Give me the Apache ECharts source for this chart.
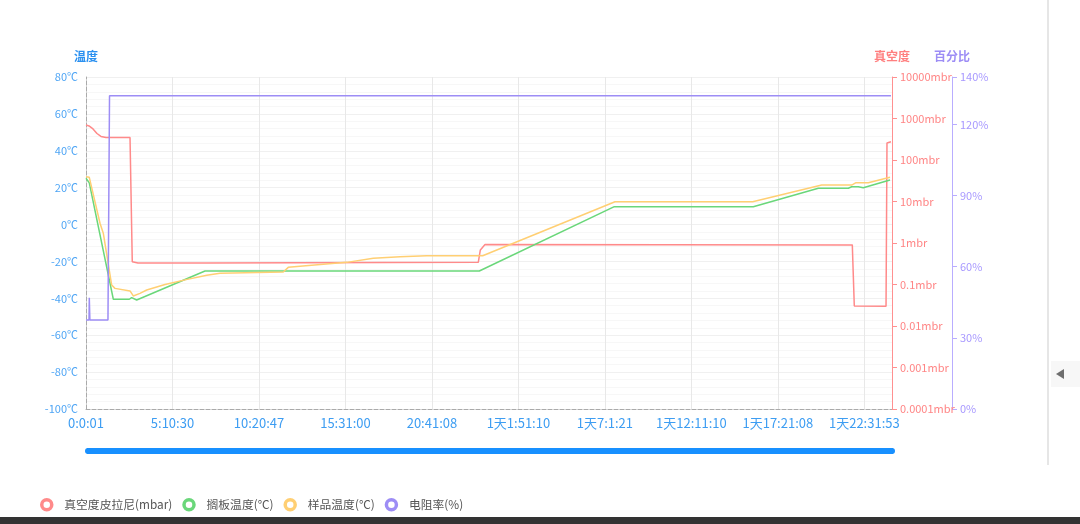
<!DOCTYPE html>
<html>
<head>
<meta charset="utf-8">
<script src="https://cdn.jsdelivr.net/npm/echarts@6/dist/echarts.min.js"></script>
<style>
  html,body{margin:0;padding:0;background:#fff;}
  #chart{position:absolute;left:0;top:0;width:1080px;height:524px;}
  #vline{position:absolute;left:1047px;top:0;width:2px;height:465px;background:#e6e6e6;}
  #arrowbox{position:absolute;left:1051px;top:361px;width:29px;height:26px;background:#f7f7f7;}
  #arrow{position:absolute;left:1056px;top:369px;width:0;height:0;border-top:5px solid transparent;border-bottom:5px solid transparent;border-right:8px solid #6e6e6e;}
  #bottombar{position:absolute;left:0;top:517px;width:1080px;height:7px;background:#333;}
</style>
</head>
<body>
<div id="chart"></div>
<div id="vline"></div>
<div id="arrowbox"></div>
<div id="arrow"></div>
<div id="bottombar"></div>
<script>
// X positions are measured in "tick-label intervals" from the first sample (0 = 0:0:01)
const xTickLabels = ['0:0:01','5:10:30','10:20:47','15:31:00','20:41:08','1天1:51:10','1天7:1:21','1天12:11:10','1天17:21:08','1天22:31:53'];
const xMax = 9.32;

const seriesNames = ['真空度皮拉尼(mbar)','搁板温度(℃)','样品温度(℃)','电阻率(%)'];

// 真空度 (mbar) [x, value]
const vacuum = [
  [0,697],[0.035,661],[0.081,560],[0.127,435],[0.173,370],[0.231,348],[0.509,348],
  [0.535,0.354],[0.601,0.33],[1.388,0.33],[1.399,0.343],[4.536,0.343],[4.56,0.68],
  [4.614,0.92],[8.861,0.9],[8.884,0.0303],[9.251,0.0298],[9.262,257],[9.285,276],[9.308,276]
];
// 搁板温度 (℃)
const shelfTemp = [
  [0,25.1],[0.038,22.6],[0.316,-40.5],[0.501,-40.5],[0.528,-39.6],[0.543,-39.8],[0.586,-40.9],
  [1.376,-25.2],[4.548,-25.2],[6.109,9.7],[7.716,9.7],[8.468,19.7],[8.815,19.7],[8.854,20.5],
  [8.93,20.5],[8.988,20.0],[9.297,24.2]
];
// 样品温度 (℃)
const sampleTemp = [
  [0,25.9],[0.038,25.6],[0.162,0.7],[0.2,-4.7],[0.297,-32.8],[0.335,-34.6],[0.509,-36.0],
  [0.526,-36.6],[0.547,-38.7],[0.624,-37.3],[0.702,-35.5],[0.914,-32.5],[1.145,-30.0],
  [1.396,-27.5],[1.549,-26.4],[2.281,-25.7],[2.339,-23.2],[3.015,-20.5],[3.322,-18.3],
  [3.631,-17.4],[3.94,-16.9],[4.587,-16.9],[6.117,12.4],[7.709,12.4],[8.507,21.4],
  [8.854,21.4],[8.904,22.7],[9.046,22.7],[9.297,25.6]
];
// 电阻率 (%)
const resistivity = [
  [0,37.5],[0.035,37.5],[0.038,46.9],[0.045,37.5],[0.254,37.5],[0.272,132.1],[9.308,132.1]
];

const colors = ['#ff8a8a','#6ad77a','#ffcf73','#9d8df5'];
const FONT = 'Noto Sans CJK SC';

const chart = echarts.init(document.getElementById('chart'));
chart.setOption({
  animation:false,
  textStyle:{fontFamily:FONT},
  color:colors,
  grid:{left:86,right:188,top:77,bottom:115,containLabel:false},
  legend:{
    left:35, top:493, itemGap:10, itemWidth:25, itemHeight:10,
    icon:'circle',
    textStyle:{fontSize:11.8,color:'#555',fontFamily:FONT},
    data:seriesNames.map((n,i)=>({name:n,itemStyle:{color:'#fff',borderColor:colors[i],borderWidth:3.5}}))
  },
  xAxis:{
    type:'value', min:0, max:xMax, interval:1,
    axisLine:{show:true,onZero:false,lineStyle:{color:'#aaa',type:'dashed'}},
    axisTick:{show:false},
    axisLabel:{fontSize:13,color:'#3d9df2',margin:8,showMaxLabel:false,
      formatter:function(v){const i=Math.round(v);return Math.abs(v-i)<1e-6&&xTickLabels[i]!==undefined?xTickLabels[i]:'';}},
    splitLine:{show:true,lineStyle:{color:'#e8e8e8',width:1}}
  },
  yAxis:[
    {
      type:'value', name:'温度', min:-100, max:80, interval:20, position:'left',
      nameTextStyle:{color:'#2a90f0',fontWeight:'bold',fontSize:12},
      axisLine:{show:true,lineStyle:{color:'#aaa',type:'dashed'}},
      axisTick:{show:false},
      axisLabel:{fontSize:11,color:'#4ea5f5',formatter:'{value}℃'},
      splitLine:{show:true,lineStyle:{color:'#f0f0f0'}},
      minorTick:{show:false,splitNumber:5},
      minorSplitLine:{show:true,lineStyle:{color:'#f7f7f7'}}
    },
    {
      type:'log', logBase:10, name:'真空度', min:0.0001, max:10000, position:'right', offset:0,
      nameTextStyle:{color:'#ff7f7f',fontWeight:'bold',fontSize:12},
      axisLine:{show:true,lineStyle:{color:'#ff9090'}},
      axisTick:{show:true,lineStyle:{color:'#ff9090'}},
      axisLabel:{fontSize:11,color:'#ff8585',
        formatter:function(v){return (+Number(v).toPrecision(1))+'mbr';}},
      splitLine:{show:false}
    },
    {
      type:'value', name:'百分比', min:0, max:140, interval:30, position:'right', offset:60,
      nameTextStyle:{color:'#9d8df5',fontWeight:'bold',fontSize:12},
      axisLine:{show:true,lineStyle:{color:'#b9adff'}},
      axisTick:{show:true,lineStyle:{color:'#b9adff'}},
      axisLabel:{fontSize:11,color:'#a899ff',formatter:'{value}%'},
      splitLine:{show:false}
    }
  ],
  dataZoom:[{
    type:'slider', xAxisIndex:0, start:0, end:100, filterMode:'none',
    left:86, right:188, top:448, height:6,
    backgroundColor:'transparent', borderColor:'transparent',
    fillerColor:'#1890ff',
    showDataShadow:false, showDetail:false, brushSelect:false,
    handleIcon:'circle', handleSize:'100%',
    handleStyle:{color:'#1890ff',borderWidth:0},
    moveHandleSize:0, moveHandleStyle:{opacity:0},
    dataBackground:{lineStyle:{opacity:0},areaStyle:{opacity:0}},
    selectedDataBackground:{lineStyle:{opacity:0},areaStyle:{opacity:0}},
    emphasis:{handleStyle:{color:'#1890ff'},moveHandleStyle:{opacity:0}}
  }],
  series:[
    {name:seriesNames[0],type:'line',yAxisIndex:1,data:vacuum,showSymbol:false,symbol:'none',lineStyle:{width:1.5,color:colors[0]},itemStyle:{color:colors[0]}},
    {name:seriesNames[1],type:'line',yAxisIndex:0,data:shelfTemp,showSymbol:false,symbol:'none',lineStyle:{width:1.5,color:colors[1]},itemStyle:{color:colors[1]}},
    {name:seriesNames[2],type:'line',yAxisIndex:0,data:sampleTemp,showSymbol:false,symbol:'none',lineStyle:{width:1.5,color:colors[2]},itemStyle:{color:colors[2]}},
    {name:seriesNames[3],type:'line',yAxisIndex:2,data:resistivity,showSymbol:false,symbol:'none',lineStyle:{width:1.5,color:colors[3]},itemStyle:{color:colors[3]}}
  ]
});
</script>
</body>
</html>
